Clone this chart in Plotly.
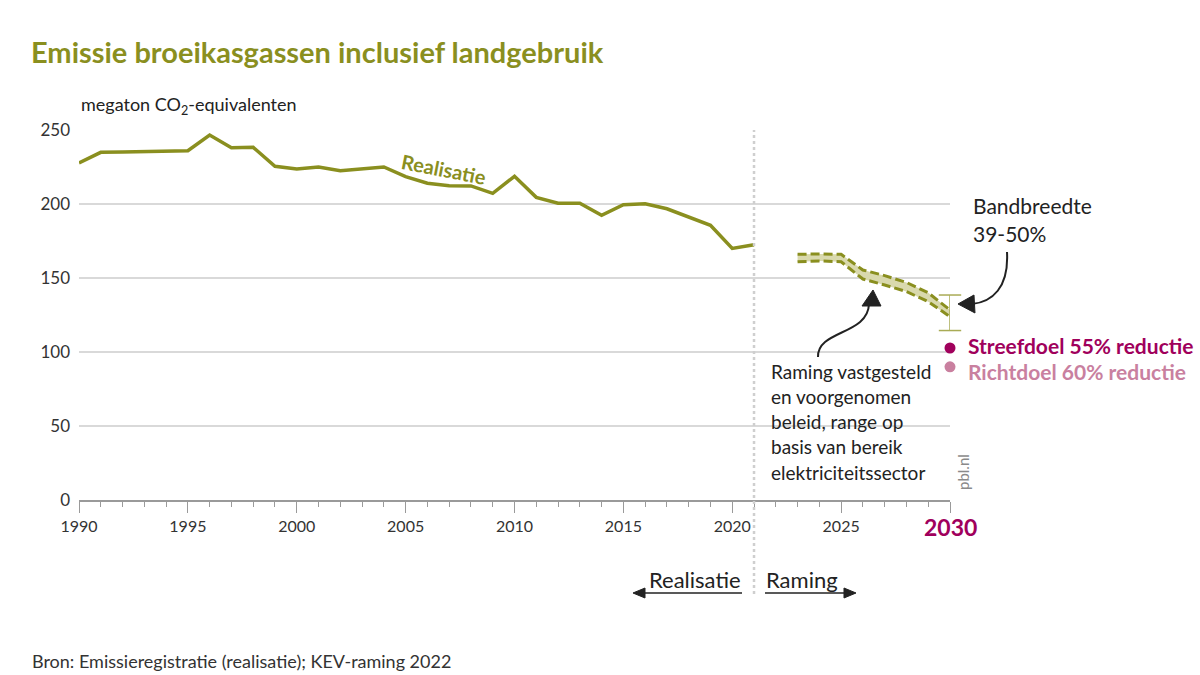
import plotly.graph_objects as go

# ---------------- data ----------------
years_real = list(range(1990, 2022))
emissions_real = [227.7, 234.9, 235.1, 235.4, 235.8, 236.0, 246.6, 238.0, 238.3, 225.5,
                  223.6, 225.0, 222.5, 223.9, 225.0, 218.5, 214.0, 212.4, 212.2, 207.2,
                  218.7, 204.5, 200.5, 200.5, 192.3, 199.5, 200.2, 196.8, 191.4, 185.6,
                  170.0, 172.5]

years_proj = list(range(2023, 2031))
proj_upper = [166.0, 166.3, 166.0, 155.4, 151.6, 147.0, 140.0, 128.4]
proj_lower = [161.0, 161.5, 161.0, 149.3, 145.3, 140.8, 134.0, 123.9]

band_year = [2030, 2030]
band_range = [138.5, 114.5]

target_year = [2030]
streefdoel = [102.7]
richtdoel = [90.0]

x_tickvals = [1990, 1995, 2000, 2005, 2010, 2015, 2020, 2025, 2030]
x_ticktext = ["1990", "1995", "2000", "2005", "2010", "2015", "2020", "2025", ""]
y_tickvals = [0, 50, 100, 150, 200, 250]

# ---------------- style ----------------
OLIVE = "#8a8f1f"
BAND = "#d9d9ad"
MAGENTA = "#a0005c"
PINK = "#c9809f"
TXT = "#222222"
FONT = "Lato, 'Open Sans', sans-serif"

W, H = 1200, 675
L, R, T, B = 79, 950, 130, 500


def px(x):
    return (x - L) / (R - L)


def py(y):
    return (B - y) / (B - T)


def P(x, y):
    return f"{px(x):.5f},{py(y):.5f}"


fig = go.Figure()

# projection band (fill)
fig.add_trace(go.Scatter(x=years_proj, y=proj_lower, mode="lines",
                         line=dict(color=OLIVE, width=0), showlegend=False,
                         hoverinfo="skip"))
fig.add_trace(go.Scatter(x=years_proj, y=proj_upper, mode="lines", fill="tonexty",
                         fillcolor=BAND, line=dict(color=OLIVE, width=0),
                         showlegend=False, hoverinfo="skip"))
for ys in (proj_upper, proj_lower):
    fig.add_trace(go.Scatter(x=years_proj, y=ys, mode="lines",
                             line=dict(color=OLIVE, width=3, dash="9px,4px"),
                             showlegend=False, cliponaxis=False))

# realisation
fig.add_trace(go.Scatter(x=years_real, y=emissions_real, mode="lines",
                         line=dict(color=OLIVE, width=3.5), showlegend=False,
                         cliponaxis=False))

# bandwidth range bar (vertical line with caps)
fig.add_trace(go.Scatter(x=band_year, y=band_range, mode="lines+markers",
                         line=dict(color="#a9ab55", width=1.5),
                         marker=dict(symbol="line-ew-open", size=16,
                                     line=dict(color="#a9ab55", width=1.5)),
                         showlegend=False, cliponaxis=False))

# targets
fig.add_trace(go.Scatter(x=target_year, y=streefdoel, mode="markers",
                         marker=dict(size=11, color=MAGENTA), showlegend=False,
                         cliponaxis=False))
fig.add_trace(go.Scatter(x=target_year, y=richtdoel, mode="markers",
                         marker=dict(size=11, color=PINK), showlegend=False,
                         cliponaxis=False))

shapes = []
# dotted divider at 2021
shapes.append(dict(type="line", xref="x", yref="paper", x0=2021, x1=2021,
                   y0=py(594), y1=py(130), line=dict(color="#cfcfcf", width=2.5, dash="dot"),
                   layer="above"))
# white box behind explanatory text
shapes.append(dict(type="rect", xref="paper", yref="paper", x0=px(766), x1=px(946),
                   y0=py(490), y1=py(358), fillcolor="white", line=dict(width=0),
                   layer="between"))

# curved arrow: Raming text -> band
shapes.append(dict(type="path", xref="paper", yref="paper",
                   path=f"M {P(818,357)} C {P(817,330)} {P(868,335)} {P(869,304)}",
                   line=dict(color=TXT, width=2)))
shapes.append(dict(type="path", xref="paper", yref="paper",
                   path=f"M {P(873,290)} L {P(881,306)} L {P(862,306)} Z",
                   fillcolor=TXT, line=dict(color=TXT, width=1)))
# curved arrow: Bandbreedte -> range bar
shapes.append(dict(type="path", xref="paper", yref="paper",
                   path=f"M {P(1007,252)} C {P(1009,288)} {P(992,302)} {P(972,304)}",
                   line=dict(color=TXT, width=2)))
shapes.append(dict(type="path", xref="paper", yref="paper",
                   path=f"M {P(958,304)} L {P(974,295)} L {P(975,313)} Z",
                   fillcolor=TXT, line=dict(color=TXT, width=1)))
# bottom arrows
shapes.append(dict(type="line", xref="paper", yref="paper", x0=px(742), x1=px(642),
                   y0=py(593), y1=py(593), line=dict(color=TXT, width=1.5)))
shapes.append(dict(type="path", xref="paper", yref="paper",
                   path=f"M {P(633,593)} L {P(645,588)} L {P(645,598)} Z",
                   fillcolor=TXT, line=dict(color=TXT, width=1)))
shapes.append(dict(type="line", xref="paper", yref="paper", x0=px(765), x1=px(846),
                   y0=py(593), y1=py(593), line=dict(color=TXT, width=1.5)))
shapes.append(dict(type="path", xref="paper", yref="paper",
                   path=f"M {P(856,593)} L {P(844,588)} L {P(844,598)} Z",
                   fillcolor=TXT, line=dict(color=TXT, width=1)))

ann = []


def A(text, x, y, size=16, color=TXT, xanchor="left", yanchor="middle", bold=False,
      angle=0, bg=None):
    d = dict(text=(f"<b>{text}</b>" if bold else text), xref="paper", yref="paper",
             x=px(x), y=py(y), xanchor=xanchor, yanchor=yanchor, showarrow=False,
             font=dict(family=FONT, size=size, color=color), textangle=angle)
    if bg:
        d["bgcolor"] = bg
    ann.append(d)


A("Emissie broeikasgassen inclusief landgebruik", 29, 52, size=29, color=OLIVE, bold=True)
A("megaton CO<sub>2</sub>-equivalenten", 79, 105, size=18)
A("Realisatie", 444, 169, size=20, color=OLIVE, bold=True, xanchor="center", angle=11)
A("Bandbreedte", 971, 205, size=21)
A("39-50%", 971, 233, size=21)
A("Streefdoel 55% reductie", 966, 345, size=21, color=MAGENTA, bold=True)
A("Richtdoel 60% reductie", 966, 371, size=21, color=PINK, bold=True)
for i, line in enumerate(["Raming vastgesteld", "en voorgenomen", "beleid, range op",
                          "basis van bereik", "elektriciteitssector"]):
    A(line, 769, 371 + i * 25.3, size=19)
A("pbl.nl", 963, 472, size=15, color="#8a8a8a", xanchor="center", angle=-90)
A("2030", 950, 527, size=23, color=MAGENTA, bold=True, xanchor="center")
A("Realisatie", 743, 579, size=22, xanchor="right")
A("Raming", 764, 579, size=22)
A("Bron: Emissieregistratie (realisatie); KEV-raming 2022", 30, 661, size=18, color="#333333")

fig.update_layout(
    width=W, height=H,
    margin=dict(l=L, r=W - R, t=T, b=H - B),
    paper_bgcolor="white", plot_bgcolor="white",
    font=dict(family=FONT, size=16, color=TXT),
    shapes=shapes, annotations=ann, showlegend=False,
    xaxis=dict(range=[1990, 2030], tickvals=x_tickvals, ticktext=x_ticktext,
               showgrid=False, zeroline=False, showline=True, linecolor="#9a9a9a",
               linewidth=1.5, ticks="outside", ticklen=11, tickwidth=1.3,
               tickcolor="#9a9a9a", tickfont=dict(size=16, color="#333333"),
               minor=dict(dtick=1, tick0=1990, ticks="outside", ticklen=5,
                          tickwidth=1.2, tickcolor="#9a9a9a", showgrid=False),
               fixedrange=True),
    yaxis=dict(range=[0, 250], tickvals=y_tickvals, showgrid=True,
               gridcolor="#d9d9d9", gridwidth=2, zeroline=False, showline=False,
               ticks="", ticklabelstandoff=8, tickfont=dict(size=17, color="#333333"),
               fixedrange=True),
)

fig.write_html("out.html")
